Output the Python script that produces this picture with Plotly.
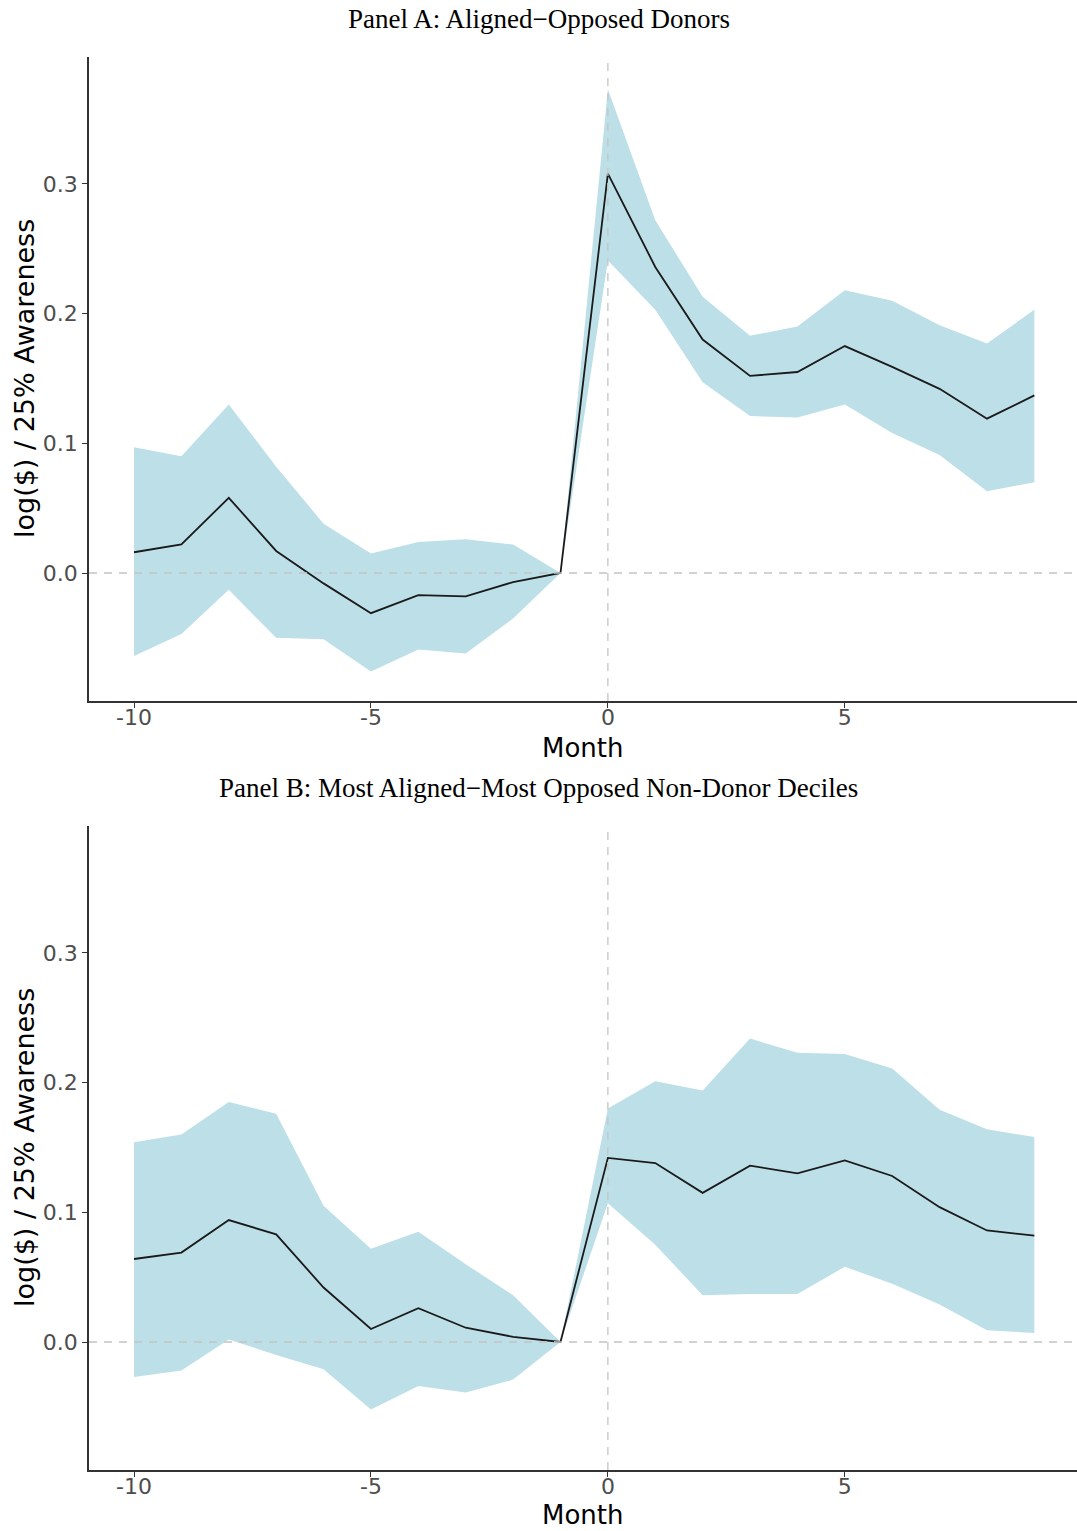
import plotly.graph_objects as go

# Event-time axis (months relative to the event)
months = [-10, -9, -8, -7, -6, -5, -4, -3, -2, -1, 0, 1, 2, 3, 4, 5, 6, 7, 8, 9]

# Panel A: aligned minus opposed donors
a_est = [0.016, 0.022, 0.058, 0.017, -0.008, -0.031, -0.017, -0.018, -0.007, 0.0,
         0.308, 0.236, 0.180, 0.152, 0.155, 0.175, 0.159, 0.142, 0.119, 0.137]
a_hi = [0.097, 0.090, 0.130, 0.082, 0.038, 0.015, 0.024, 0.026, 0.022, 0.0,
        0.373, 0.272, 0.213, 0.183, 0.190, 0.218, 0.210, 0.191, 0.177, 0.203]
a_lo = [-0.064, -0.047, -0.013, -0.050, -0.051, -0.076, -0.059, -0.062, -0.035, 0.0,
        0.241, 0.203, 0.147, 0.121, 0.120, 0.130, 0.108, 0.091, 0.063, 0.070]

# Panel B: most aligned minus most opposed non-donor deciles
b_est = [0.064, 0.069, 0.094, 0.083, 0.042, 0.010, 0.026, 0.011, 0.004, 0.0,
         0.142, 0.138, 0.115, 0.136, 0.130, 0.140, 0.128, 0.104, 0.086, 0.082]
b_hi = [0.154, 0.160, 0.185, 0.176, 0.105, 0.072, 0.085, 0.060, 0.036, 0.0,
        0.180, 0.201, 0.194, 0.234, 0.223, 0.222, 0.211, 0.179, 0.164, 0.158]
b_lo = [-0.027, -0.022, 0.002, -0.010, -0.021, -0.052, -0.034, -0.039, -0.029, 0.0,
        0.107, 0.075, 0.036, 0.037, 0.037, 0.058, 0.045, 0.029, 0.009, 0.007]

x_ticks = [-10, -5, 0, 5]
y_ticks = [0.0, 0.1, 0.2, 0.3]
y_tick_text = ["0.0", "0.1", "0.2", "0.3"]

panel_titles = ["Panel A: Aligned\u2212Opposed Donors",
                "Panel B: Most Aligned\u2212Most Opposed Non-Donor Deciles"]
x_title = "Month"
y_title = "log($) / 25% Awareness"

W, H = 1077, 1531
RIBBON = "#BDDFE8"
LINE = "#1a1a1a"
AXIS = "#333333"
REF = "#c4c4c4"

fig = go.Figure()

panels = [(a_est, a_hi, a_lo, "x", "y"), (b_est, b_hi, b_lo, "x2", "y2")]
for est, hi, lo, xa, ya in panels:
    fig.add_trace(go.Scatter(x=months, y=hi, mode="lines", line=dict(width=0),
                             xaxis=xa, yaxis=ya, showlegend=False, hoverinfo="skip"))
    fig.add_trace(go.Scatter(x=months, y=lo, mode="lines", line=dict(width=0),
                             fill="tonexty", fillcolor=RIBBON,
                             xaxis=xa, yaxis=ya, showlegend=False, hoverinfo="skip"))
    fig.add_trace(go.Scatter(x=months, y=est, mode="lines",
                             line=dict(color=LINE, width=1.8),
                             xaxis=xa, yaxis=ya, showlegend=False))

x_range = [-10.95, 9.9]
y_range = [-0.0987, 0.3979]

def px_to_paper_y(py):
    return 1 - py / H

# plot-area pixel extents (top, bottom) of each panel
panel_px = [(57, 701), (826, 1470)]
x_dom = [89 / W, 1.0]

axis_common = dict(showline=True, linecolor=AXIS, linewidth=1.5, ticks="outside",
                   ticklen=5, tickwidth=1.2, tickcolor=AXIS, showgrid=False,
                   zeroline=False, mirror=False,
                   tickfont=dict(family="DejaVu Sans", size=22, color="#4d4d4d"))

layout_axes = {}
for i, (top, bot) in enumerate(panel_px):
    suffix = "" if i == 0 else "2"
    ydom = [px_to_paper_y(bot), px_to_paper_y(top)]
    layout_axes["xaxis" + suffix] = dict(axis_common, domain=x_dom, range=x_range,
                                         tickvals=x_ticks,
                                         ticktext=[str(t) for t in x_ticks],
                                         ticklabelstandoff=-9,
                                         anchor="y" + suffix)
    layout_axes["yaxis" + suffix] = dict(axis_common, domain=ydom, range=y_range,
                                         tickvals=y_ticks, ticktext=y_tick_text,
                                         anchor="x" + suffix)

fig.update_layout(width=W, height=H, margin=dict(l=0, r=0, t=0, b=0),
                  paper_bgcolor="white", plot_bgcolor="white", **layout_axes)

# Reference lines at zero event time and zero effect
shapes = []
for suffix in ["", "2"]:
    shapes.append(dict(type="line", xref="x" + suffix, yref="y" + suffix + " domain",
                       x0=0, x1=0, y0=0, y1=1, layer="above",
                       line=dict(color=REF, width=1.3, dash="8px,7px")))
    shapes.append(dict(type="line", xref="x" + suffix + " domain", yref="y" + suffix,
                       x0=0, x1=1, y0=0, y1=0, layer="above",
                       line=dict(color=REF, width=1.3, dash="8px,7px")))
fig.update_layout(shapes=shapes)

annotations = []
title_y_px = [19, 788]
month_y_px = [748, 1515]
for i, (top, bot) in enumerate(panel_px):
    annotations.append(dict(text=panel_titles[i], xref="paper", yref="paper",
                            x=0.5, y=px_to_paper_y(title_y_px[i]), showarrow=False,
                            xanchor="center", yanchor="middle",
                            font=dict(family="Liberation Serif", size=27, color="black")))
    annotations.append(dict(text=x_title, xref="paper", yref="paper",
                            x=(x_dom[0] + x_dom[1]) / 2, y=px_to_paper_y(month_y_px[i]),
                            showarrow=False, xanchor="center", yanchor="middle",
                            borderpad=0,
                            font=dict(family="DejaVu Sans", size=26, color="black")))
    annotations.append(dict(text=y_title, xref="paper", yref="paper",
                            x=24 / W, y=px_to_paper_y((top + bot) / 2),
                            showarrow=False, textangle=-90,
                            xanchor="center", yanchor="middle",
                            font=dict(family="DejaVu Sans", size=27, color="black")))
fig.update_layout(annotations=annotations)

fig.write_html("out.html")
